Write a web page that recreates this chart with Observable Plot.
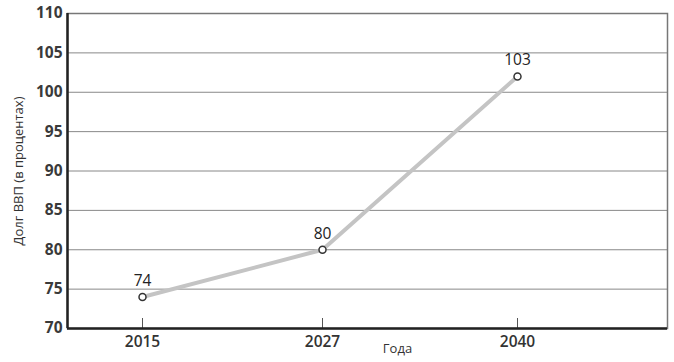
<!DOCTYPE html>
<html><head><meta charset="utf-8">
<script src="https://cdn.jsdelivr.net/npm/d3@7"></script>
<script src="https://cdn.jsdelivr.net/npm/@observablehq/plot@0.6"></script>
<style>
body{margin:0;background:#fff}
</style>
</head><body><div id="chart"></div>
<script>
const years = [2015, 2027, 2040];
const debt = [74, 80, 102];
const debtLabels = ["74", "80", "103"];
const yTicks = [70, 75, 80, 85, 90, 95, 100, 105, 110];
const xLabel = "Года";
const yLabel = "Долг ВВП (в процентах)";

const data = years.map((y, i) => ({year: y, value: debt[i], label: debtLabels[i]}));

const chart = Plot.plot({
  width: 674, height: 362,
  marginLeft: 67, marginRight: 7, marginTop: 13, marginBottom: 34,
  style: {fontFamily: "'Open Sans', sans-serif", color: "#333", background: "#fff"},
  x: {domain: [2010, 2050]},
  y: {domain: [70, 110], axis: null},
  marks: [
    Plot.gridY(yTicks, {stroke: "#888", strokeOpacity: 1, strokeWidth: 1}),
    Plot.frame({stroke: "#777", strokeWidth: 1.5}),
    Plot.text(yTicks, {y: d => d, frameAnchor: "left", textAnchor: "end", dx: -5, fontSize: 15.5, fontWeight: "bold", fill: "#3a3a3a"}),
    Plot.axisX(years, {tickSize: -10, tickPadding: 17, fontSize: 15.5, fontWeight: 600, tickFormat: "d", label: null, stroke: "#555", fill: "#333"}),
    Plot.ruleY([70], {stroke: "#222", strokeWidth: 2.5}),
    Plot.ruleX([2010], {stroke: "#222", strokeWidth: 2.5}),
    Plot.line(data, {x: "year", y: "value", stroke: "#c4c4c4", strokeWidth: 4}),
    Plot.dot(data, {x: "year", y: "value", r: 3.5, fill: "#fff", stroke: "#333", strokeWidth: 1.5}),
    Plot.text(data, {x: "year", y: "value", text: "label", dy: -16, fontSize: 15.5, fill: "#222"}),
    Plot.text([xLabel], {frameAnchor: "bottom", dx: 30, dy: 24, fontSize: 13, fill: "#333"}),
    Plot.text([yLabel], {frameAnchor: "left", textAnchor: "middle", dx: -49, rotate: -90, fontSize: 13, fill: "#333"})
  ]
});
document.getElementById("chart").appendChild(chart);
</script>
</body></html>
